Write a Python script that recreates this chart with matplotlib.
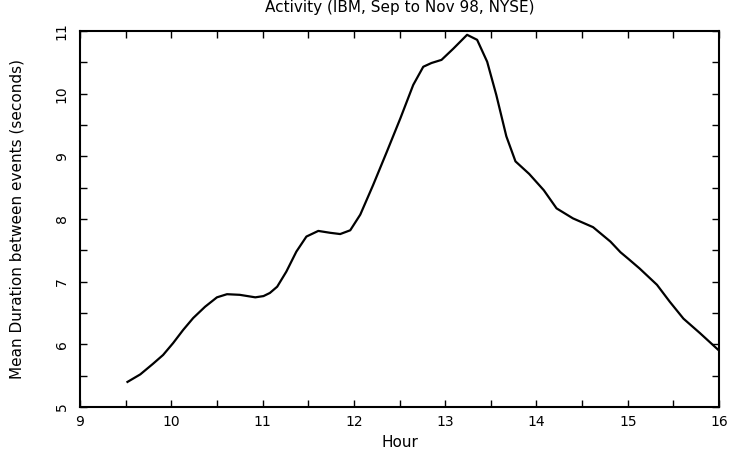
import matplotlib
matplotlib.use("Agg")
import numpy as np
import matplotlib.pyplot as plt
from matplotlib.ticker import MultipleLocator

# values
hour = [9.52, 9.66, 9.80, 9.91, 10.02, 10.13, 10.24, 10.37, 10.50, 10.61,
        10.75, 10.92, 11.01, 11.08, 11.16, 11.26, 11.37, 11.48, 11.61, 11.74,
        11.85, 11.96, 12.07, 12.21, 12.36, 12.51, 12.65, 12.76, 12.85, 12.96,
        13.09, 13.24, 13.35, 13.46, 13.56, 13.67, 13.77, 13.92, 14.08, 14.22,
        14.40, 14.62, 14.81, 14.92, 15.01, 15.13, 15.32, 15.46, 15.61, 15.79,
        16.0]
duration = [5.40, 5.52, 5.69, 5.83, 6.02, 6.23, 6.42, 6.60, 6.75, 6.80,
            6.79, 6.75, 6.77, 6.82, 6.92, 7.16, 7.48, 7.72, 7.81, 7.78,
            7.76, 7.82, 8.07, 8.54, 9.07, 9.61, 10.14, 10.43, 10.49, 10.54,
            10.72, 10.94, 10.86, 10.51, 9.98, 9.32, 8.92, 8.72, 8.46, 8.17,
            8.01, 7.87, 7.64, 7.47, 7.36, 7.21, 6.95, 6.68, 6.41, 6.18,
            5.90]

fig = plt.figure(figsize=(7.3, 4.5), dpi=100)
ax = fig.add_axes([0.1096, 0.0956, 0.8754, 0.8354])

ax.plot(hour, duration, color="black", lw=1.6, solid_joinstyle="round")

ax.set_xlim(9, 16)
ax.set_ylim(5, 11)
ax.xaxis.set_major_locator(MultipleLocator(1))
ax.xaxis.set_minor_locator(MultipleLocator(0.5))
ax.yaxis.set_major_locator(MultipleLocator(1))
ax.yaxis.set_minor_locator(MultipleLocator(0.5))
ax.tick_params(which="both", direction="in", top=True, right=True,
               length=5, width=1)
ax.tick_params(axis="x", labelsize=10, pad=6)
ax.tick_params(axis="y", labelsize=10, labelrotation=90, pad=8)
for lab in ax.get_yticklabels():
    lab.set_va("center")
for s in ax.spines.values():
    s.set_linewidth(1.5)

ax.set_title("Activity (IBM, Sep to Nov 98, NYSE)", fontsize=11, pad=14)
ax.set_xlabel("Hour", fontsize=11, labelpad=4)
ax.set_ylabel("Mean Duration between events (seconds)", fontsize=11,
              labelpad=22)

fig.savefig("out.png", dpi=100)
